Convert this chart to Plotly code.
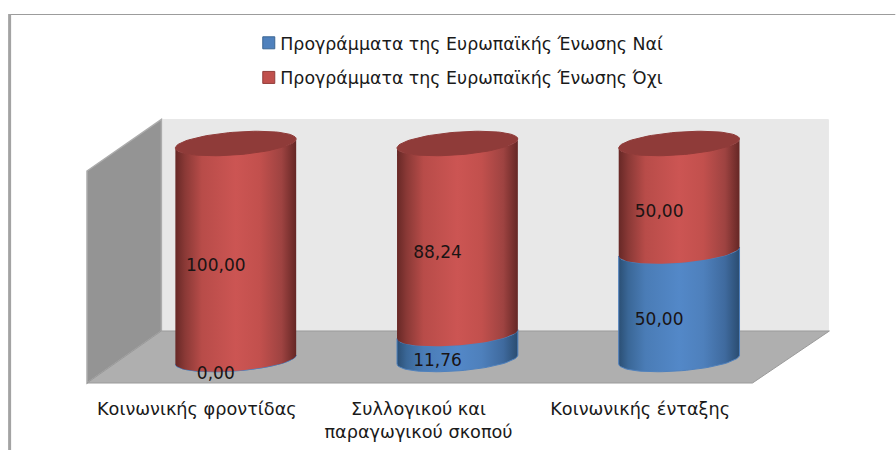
import numpy as np
import plotly.graph_objects as go

categories = ["Κοινωνικής φροντίδας", "Συλλογικού και<br>παραγωγικού σκοπού", "Κοινωνικής ένταξης"]
series_yes_name = "Προγράμματα της Ευρωπαϊκής Ένωσης Ναί"
series_no_name = "Προγράμματα της Ευρωπαϊκής Ένωσης Όχι"
yes_values = [0.00, 11.76, 50.00]
no_values = [100.00, 88.24, 50.00]

FONT = "DejaVu Sans"
W, H = 896, 450
L, R, T, B = 85.5, 751.5, 120, 383          # plot area in pixels
PX_X = (R - L) / 3                          # pixels per category
PX_Y = (B - T) / 121.76                     # pixels per value unit
CX = 39 / PX_X                              # depth shift of the cylinders
HALF = 60.5 / PX_X                          # cylinder half width
ELL_B = 11.4 / PX_Y
ELL_S = 4.5 / PX_Y


def px(x):
    return (x - L) / (R - L)


def py(y):
    return (B - y) / (B - T)


def cap(cx, y, t):
    return cx + HALF * np.cos(t), y + ELL_S * np.cos(t) + ELL_B * np.sin(t)


def body(i, y0, y1):
    cx = i + CX
    t_front = np.linspace(np.pi, 2 * np.pi, 40)
    xb, yb = cap(cx, y0, t_front)
    t_top = np.linspace(2 * np.pi, np.pi, 40)
    xt, yt = cap(cx, y1, t_top)
    return np.r_[xb, xt, xb[0]], np.r_[yb, yt, yb[0]]


RED_SCALE = [[0, "#672826"], [0.08, "#8a3936"], [0.22, "#b84c49"], [0.5, "#cc5553"],
             [0.7, "#c2504d"], [0.88, "#9e4341"], [1, "#652725"]]
BLUE_SCALE = [[0, "#2b4f74"], [0.08, "#3a6797"], [0.22, "#4a7cb6"], [0.5, "#5388c8"],
              [0.7, "#4e80bc"], [0.88, "#3f6a9e"], [1, "#2a4c70"]]

fig = go.Figure()
xs = list(range(len(categories)))
bw = 100 / PX_X
fig.add_trace(go.Bar(x=xs, y=yes_values, name=series_yes_name, width=bw, offset=CX - bw / 2,
                     marker=dict(color="#4f81bd", line=dict(color="#3b6593", width=1)), legendgroup="a"))
fig.add_trace(go.Bar(x=xs, y=no_values, name=series_no_name, width=bw, offset=CX - bw / 2,
                     marker=dict(color="#c0504d", line=dict(color="#933d3b", width=1)), legendgroup="b"))

for i in xs:
    yb, nv = yes_values[i], no_values[i]
    bx, by = body(i, 0, yb)
    fig.add_trace(go.Scatter(x=bx, y=by, mode="lines", fill="toself", showlegend=False, hoverinfo="skip",
                             line=dict(color="#4f81bd", width=1),
                             fillgradient=dict(type="horizontal", colorscale=BLUE_SCALE)))
    rx, ry = body(i, yb, yb + nv)
    fig.add_trace(go.Scatter(x=rx, y=ry, mode="lines", fill="toself", showlegend=False, hoverinfo="skip",
                             line=dict(color="rgba(0,0,0,0)", width=0),
                             fillgradient=dict(type="horizontal", colorscale=RED_SCALE)))
    cxs, cys = cap(i + CX, yb + nv, np.linspace(0, 2 * np.pi, 90))
    fig.add_trace(go.Scatter(x=cxs, y=cys, mode="lines", fill="toself", fillcolor="#8f3b39", showlegend=False,
                             hoverinfo="skip", line=dict(color="#8f3b39", width=1)))

LBL_X = 19 / PX_X
LBL_Y = 15 / PX_Y
lx, ly, lt = [], [], []
for i in xs:
    lx += [i + LBL_X, i + LBL_X]
    ly += [yes_values[i] / 2 - LBL_Y, yes_values[i] + no_values[i] / 2 - LBL_Y]
    lt += [f"{yes_values[i]:.2f}".replace(".", ","), f"{no_values[i]:.2f}".replace(".", ",")]
fig.add_trace(go.Scatter(x=lx, y=ly, text=lt, mode="text", showlegend=False, hoverinfo="skip",
                         textfont=dict(family=FONT, size=17, color="#1a1414")))


def poly(points, fill, line=None, width=1):
    path = "M" + " L".join(f"{px(a):.5f},{py(b):.5f}" for a, b in points) + " Z"
    return dict(type="path", path=path, xref="paper", yref="paper", fillcolor=fill, layer="below",
                line=dict(color=line or fill, width=width))


shapes = [
    poly([(161, 119.5), (829, 119.5), (829, 331), (161, 331)], "#e8e8e8"),
    poly([(86.5, 171), (161, 119.5), (161, 331), (86.5, 383)], "#949494", "#acacac", 1.5),
    poly([(161, 331), (830, 331), (753, 383), (86.5, 383)], "#afafaf", "#9a9a9a", 1),
    dict(type="line", xref="paper", yref="paper", x0=px(9), x1=px(896), y0=py(14.5), y1=py(14.5),
         line=dict(color="#9c9c9c", width=1), layer="below"),
    dict(type="line", xref="paper", yref="paper", x0=px(9), x1=px(9), y0=py(14), y1=py(450),
         line=dict(color="#a3a3a3", width=3), layer="below"),
]

fig.update_layout(
    width=W, height=H, barmode="stack", autosize=False,
    margin=dict(l=L, r=W - R, t=T, b=H - B, pad=0, autoexpand=False),
    paper_bgcolor="white", plot_bgcolor="rgba(0,0,0,0)",
    shapes=shapes,
    font=dict(family=FONT, size=17, color="#1a1a1a"),
    xaxis=dict(range=[-0.5, 2.5], tickvals=xs, ticktext=categories, showgrid=False, zeroline=False,
               showline=False, ticks="outside", ticklen=10, tickcolor="rgba(0,0,0,0)",
               tickfont=dict(family=FONT, size=17.7, color="#1a1a1a"), fixedrange=True),
    yaxis=dict(range=[-10.88, 110.88], visible=False, fixedrange=True),
    legend=dict(x=px(240), xanchor="left", y=py(25), yanchor="top", orientation="v", traceorder="grouped",
                tracegroupgap=9, bgcolor="rgba(0,0,0,0)", font=dict(family=FONT, size=17.4, color="#1a1a1a")),
    showlegend=True,
)
fig.write_html(
    "out.html",
    config={"displayModeBar": False},
    post_script=(
        "document.body.style.margin='0';"
        "document.querySelectorAll('.legend .legendsymbols').forEach(function(e){"
        "e.setAttribute('transform','translate(8.5,0)');});"
    ),
)
